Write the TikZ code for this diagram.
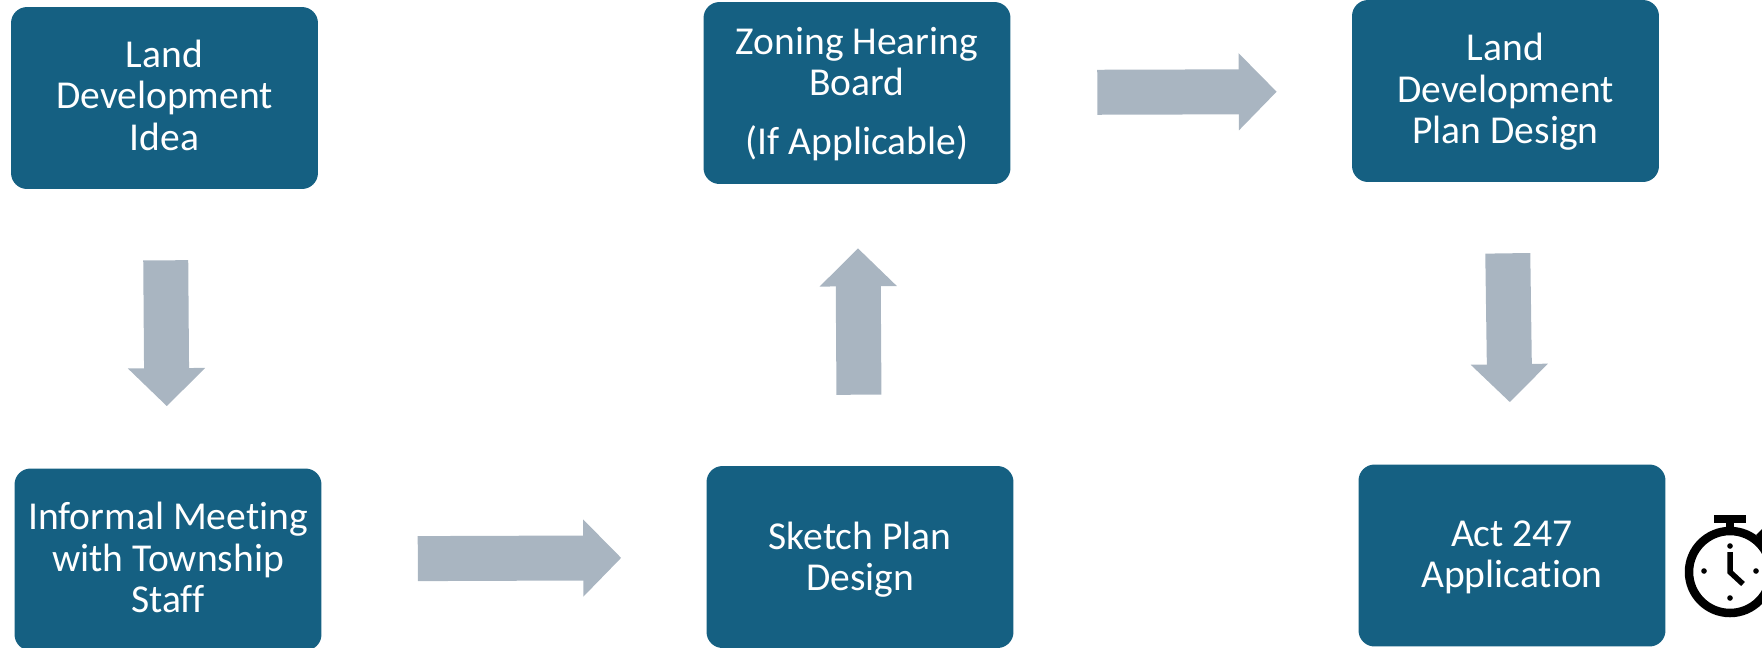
\documentclass[tikz,border=0pt]{standalone}
\usepackage{fontspec}
\setmainfont[Ligatures=NoCommon]{Carlito}
\usetikzlibrary{arrows.meta}
\definecolor{boxblue}{HTML}{156082}
\definecolor{arrowgray}{HTML}{A9B5C1}
% Struts to move the text of a box a little
\newcommand{\downstrut}[1]{\rule{0pt}{#1}}
\newcommand{\upstrut}[1]{\rule[-#1]{0pt}{#1}}
\tikzset{
%Define style for the boxes
stage/.style={fill=boxblue, text=white, rounded corners=.32cm, align=center,
  minimum width=6.14cm, minimum height=3.64cm, inner sep=0pt,
  font=\fontsize{22.5}{23.6}\selectfont},
%Define style for the block arrows
flow/.style={draw=arrowgray, line width=.9cm,
  -{Triangle[length=.76cm, width=1.5cm]}},
watch line/.style={black, line width=.17cm},
watch hand/.style={black, line width=.11cm},
}

\begin{document}
\begin{tikzpicture}[x=.02cm, y=-.02cm]
    \useasboundingbox (0,0) rectangle (1762,647);
    % Boxes
    \node[stage] (idea) at (164.5,98) {Land\\Development\\Idea\upstrut{3.4pt}};
    \node[stage] (meeting) at (168,559.5) {Informal Meeting\\with Township\\Staff\upstrut{2.5pt}};
    \node[stage] (sketch) at (860,557) {\downstrut{18.4pt}Sketch Plan\\Design};
    \node[stage] (zoning) at (857,93) {\downstrut{16.6pt}Zoning Hearing\\Board\\[.34cm](If Applicable)};
    \node[stage] (plan) at (1505.5,91) {\downstrut{16.8pt}Land\\Development\\Plan Design};
    \node[stage] (act) at (1512,555.5) {\downstrut{16.8pt}Act 247\\Application};

    % Block arrows
    \draw[flow, shorten <=1.42cm, shorten >=1.24cm] (idea) -- (meeting);
    \draw[flow, shorten <=1.92cm, shorten >=1.7cm] (meeting) -- (sketch);
    \draw[flow, shorten <=1.42cm, shorten >=1.28cm] (sketch) -- (zoning);
    \draw[flow, shorten <=1.73cm, shorten >=1.5cm] (zoning) -- (plan);
    \draw[flow, shorten <=1.42cm, shorten >=1.24cm] (plan) -- (act);

    % Stopwatch
    \coordinate (clock) at (1730,572);
    \draw[watch line] (clock) circle (41);
    \fill[black] (1714,514.5) rectangle (1746,522.5);
    \fill[black] (1726,522) rectangle (1734,532);
    \fill[black] (1756,535) -- (1768,523) -- (1780,535) -- (1768,547) -- cycle;
    \draw[watch hand] (1730,552) -- (1730,572) -- (1743,584);
    \fill[black] (1730,546) circle (2.8);
    \fill[black] (1756,571) circle (2.8);
    \fill[black] (1730,598) circle (2.8);
    \fill[black] (1704,571) circle (2.8);
\end{tikzpicture}
\end{document}
